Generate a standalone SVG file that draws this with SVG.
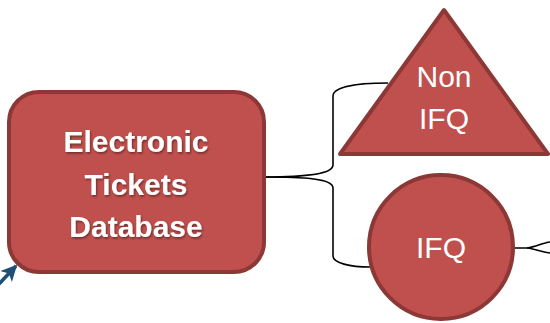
<svg xmlns="http://www.w3.org/2000/svg" width="550" height="323" viewBox="0 0 550 323">
<defs>
<style>
.shape{fill:#C0504D;stroke:#8C3836;stroke-width:4;stroke-linejoin:round}
.conn{fill:none;stroke:#000;stroke-width:1.6}
.lbl{fill:#fff;font-family:"Liberation Sans",Arial,sans-serif;font-size:30px;text-anchor:middle}
.bold{font-weight:bold}
</style>
<filter id="sh" x="-10%" y="-10%" width="120%" height="130%">
<feDropShadow dx="1" dy="1.5" stdDeviation="1" flood-color="#000" flood-opacity="0.45"/>
</filter>
<marker id="ah" viewBox="0 0 10 10" refX="9" refY="5" markerUnits="userSpaceOnUse" markerWidth="16" markerHeight="16" orient="auto">
<path d="M0,0 L10,5 L0,10 L2.5,5 Z" fill="#1F4E79"/>
</marker>
</defs>
<g id="connectors">
<path class="conn" d="M264,177 C300,177 333,175 333,165 L333,96 C333,87 355,83 388,83"/>
<path class="conn" d="M264,177 C300,177 333,178 333,188 L333,256 C333,263 350,267 370,267"/>
<path class="conn" stroke-width="2" d="M513,248 L527,248 C536,247 542,243 550,242"/>
<path class="conn" stroke-width="2" d="M527,248 C536,249 542,252 550,253"/>
<path d="M-2,285 L16,266" fill="none" stroke="#1F4E79" stroke-width="3.5" marker-end="url(#ah)"/>
</g>
<g id="database">
<rect class="shape" x="9" y="92" width="255" height="180" rx="30" ry="30"/>
<g class="lbl bold" filter="url(#sh)">
<text x="136" y="152">Electronic</text>
<text x="136" y="195">Tickets</text>
<text x="136" y="237">Database</text>
</g>
</g>
<g id="nonifq">
<path class="shape" d="M444,10 L548,154 L340,154 Z"/>
<text class="lbl" x="444" y="87">Non</text>
<text class="lbl" x="444" y="129">IFQ</text>
</g>
<g id="ifq">
<circle class="shape" cx="441" cy="247" r="72"/>
<text class="lbl" x="441" y="258">IFQ</text>
</g>
</svg>
